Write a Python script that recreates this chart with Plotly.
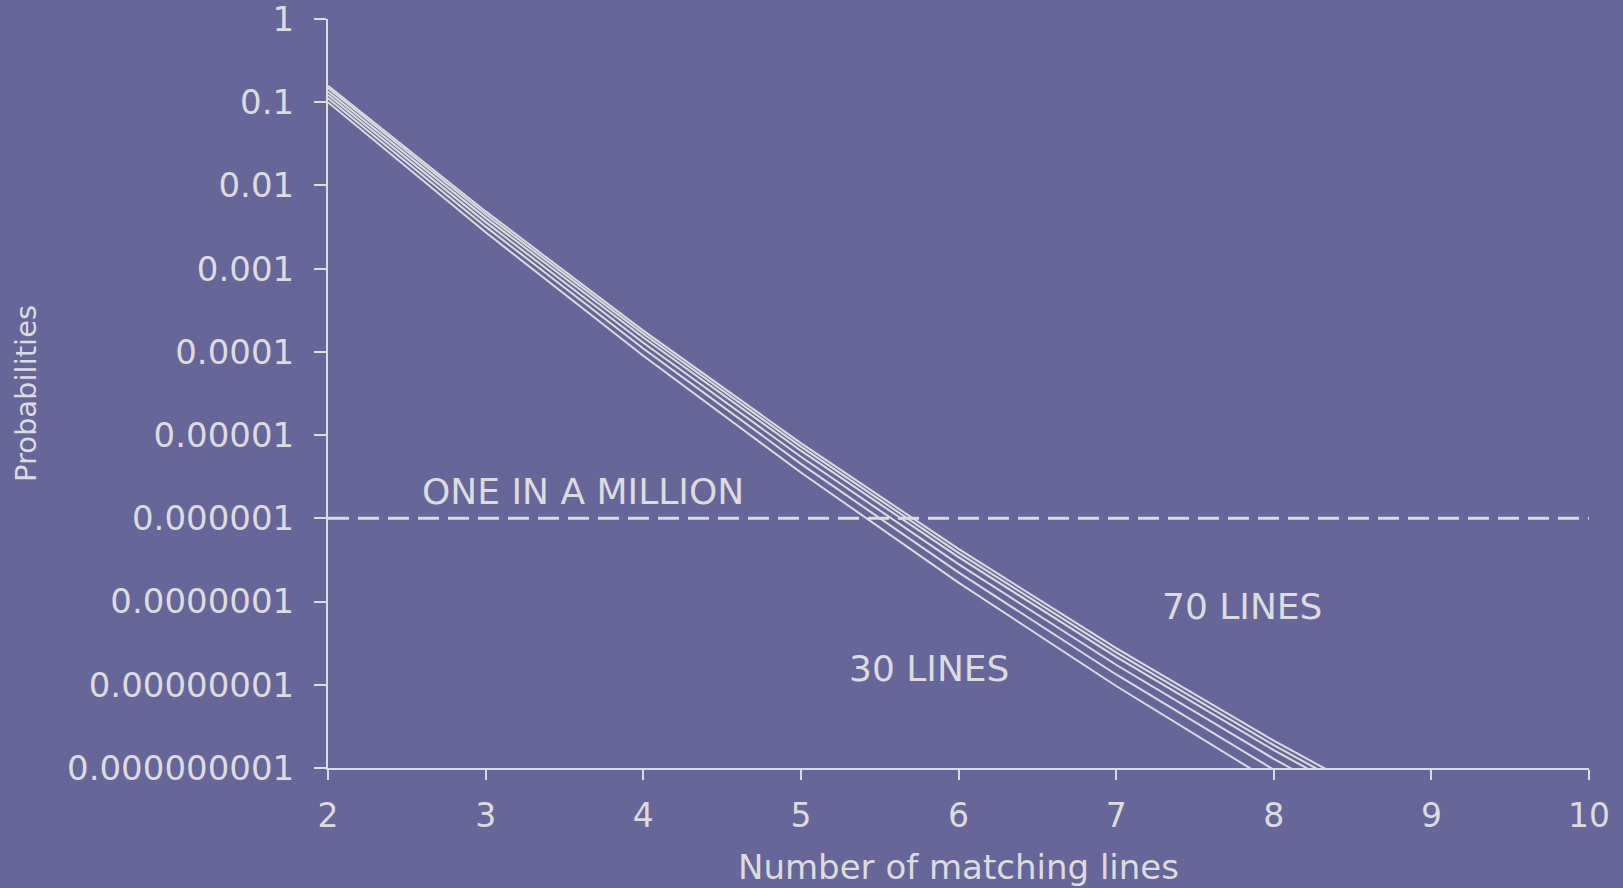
import plotly.graph_objects as go

# Number of matching lines (x)
matching_lines = [2, 3, 4, 5, 6, 7, 8, 9]

# Probability curves (lowest = 30 lines, highest = 70 lines)
prob_30 = [0.100, 2.74e-3, 8.99e-5, 3.56e-6, 1.69e-7, 9.66e-9, 6.64e-10, 5.5e-11]
prob_40 = [0.112, 3.20e-3, 1.10e-4, 4.52e-6, 2.24e-7, 1.33e-8, 9.55e-10, 8.22e-11]
prob_50 = [0.123, 3.63e-3, 1.29e-4, 5.50e-6, 2.82e-7, 1.74e-8, 1.29e-9, 1.15e-10]
prob_60 = [0.135, 4.08e-3, 1.49e-4, 6.50e-6, 3.42e-7, 2.16e-8, 1.64e-9, 1.50e-10]
prob_65 = [0.148, 4.51e-3, 1.65e-4, 7.28e-6, 3.85e-7, 2.45e-8, 1.88e-9, 1.73e-10]
prob_70 = [0.158, 4.88e-3, 1.80e-4, 8.02e-6, 4.29e-7, 2.75e-8, 2.13e-9, 1.98e-10]

series = [prob_30, prob_40, prob_50, prob_60, prob_65, prob_70]

# One-in-a-million threshold
threshold_x = [2, 10]
threshold_y = [1e-6, 1e-6]

y_tickvals = [1, 0.1, 0.01, 0.001, 0.0001, 0.00001, 0.000001, 0.0000001,
              0.00000001, 0.000000001]
y_ticktext = ["1", "0.1", "0.01", "0.001", "0.0001", "0.00001", "0.000001",
              "0.0000001", "0.00000001", "0.000000001"]
x_tickvals = [2, 3, 4, 5, 6, 7, 8, 9, 10]

BG = "#666699"
FG = "#dcdcdc"
FONT = "DejaVu Sans"

fig = go.Figure()
for s in series:
    fig.add_trace(go.Scatter(x=matching_lines, y=s, mode="lines",
                             line=dict(color=FG, width=2), showlegend=False,
                             hoverinfo="skip"))

fig.add_trace(go.Scatter(x=threshold_x, y=threshold_y, mode="lines",
                         line=dict(color=FG, width=3, dash="21px,9px"),
                         showlegend=False, hoverinfo="skip"))

fig.update_layout(
    width=1623, height=888,
    paper_bgcolor=BG, plot_bgcolor=BG,
    margin=dict(l=328, r=34, t=19, b=120, autoexpand=False),
    font=dict(family=FONT, color=FG, size=32),
    xaxis=dict(
        range=[2, 10], tickvals=x_tickvals, showgrid=False, zeroline=False,
        showline=True, linecolor=FG, linewidth=2,
        ticks="outside", ticklen=10, tickwidth=2, tickcolor=FG,
        tickfont=dict(size=33, color=FG, family=FONT),
        ticklabelstandoff=7,
        title=dict(text="Number of matching lines",
                   font=dict(size=34, color=FG, family=FONT), standoff=22),
    ),
    yaxis=dict(
        type="log", range=[-9, 0.0005], tickvals=y_tickvals, ticktext=y_ticktext,
        showgrid=False, zeroline=False,
        showline=True, linecolor=FG, linewidth=2,
        ticks="outside", ticklen=12, tickwidth=2, tickcolor=FG,
        tickfont=dict(size=34, color=FG, family=FONT),
        ticklabelstandoff=13, ticklabeloverflow="allow",
        title=dict(text="Probabilities",
                   font=dict(size=29, color=FG, family=FONT), standoff=22),
    ),
    annotations=[
        dict(x=3.62, y=-5.68, xref="x", yref="y", text="ONE IN A MILLION",
             showarrow=False, font=dict(size=36, color=FG, family=FONT)),
        dict(x=7.80, y=-7.06, xref="x", yref="y", text="70 LINES",
             showarrow=False, font=dict(size=36, color=FG, family=FONT)),
        dict(x=5.81, y=-7.80, xref="x", yref="y", text="30 LINES",
             showarrow=False, font=dict(size=36, color=FG, family=FONT)),
    ],
)

fig.write_html("out.html", config={"displayModeBar": False},
               post_script="document.body.style.margin='0';"
                           "document.body.style.background='#666699';")
